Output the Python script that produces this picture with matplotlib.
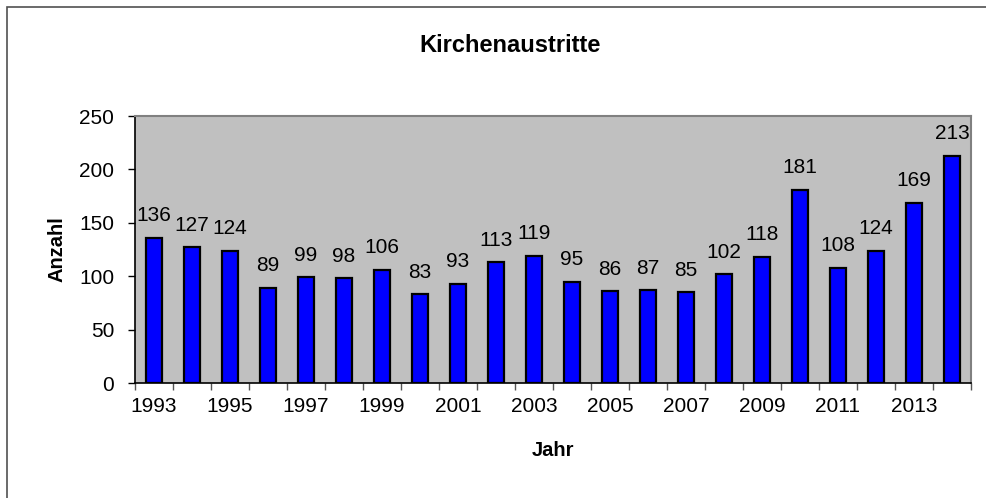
import numpy as np
import matplotlib
matplotlib.use("Agg")
import matplotlib.pyplot as plt
from matplotlib.patches import Rectangle

jahre = list(range(1993, 2015))
anzahl = [136, 127, 124, 89, 99, 98, 106, 83, 93, 113, 119,
          95, 86, 87, 85, 102, 118, 181, 108, 124, 169, 213]

plt.rcParams['font.family'] = ['Liberation Sans', 'DejaVu Sans']

fig = plt.figure(figsize=(9.87, 4.98), dpi=100)
ax = fig.add_axes([135/987, 1-383/498, 836/987, 267/498])
ax.set_facecolor("#C0C0C0")

x = np.arange(len(jahre))
bars = ax.bar(x, anzahl, width=0.42, color="#0000FF", edgecolor="black", linewidth=1.6, zorder=3)
for xi, v in zip(x, anzahl):
    ax.annotate(str(v), (xi, v), xytext=(0, 9), textcoords="offset points",
                ha="center", va="bottom", fontsize=15)

ax.set_xlim(-0.5, len(jahre) - 0.5)
ax.set_ylim(0, 250)
ax.set_yticks(range(0, 251, 50))
ax.tick_params(axis="y", labelsize=15, length=5, pad=10, width=1)

# Striche zwischen den Kategorien, Beschriftung jedes zweiten Jahres
ax.set_xticks(np.arange(-0.5, len(jahre), 1))
ax.set_xticklabels([])
ax.tick_params(axis="x", which="major", length=5, width=1, color="#555555")
ax.set_xticks(x[::2], minor=True)
ax.set_xticklabels([str(j) for j in jahre[::2]], minor=True)
ax.tick_params(axis="x", which="minor", length=0, labelsize=15, pad=10)

for s in ["top", "right"]:
    ax.spines[s].set_color("#808080")
    ax.spines[s].set_linewidth(1.5)
for s in ["left", "bottom"]:
    ax.spines[s].set_color("black")
    ax.spines[s].set_linewidth(1.2)

ax.set_xlabel("Jahr", fontsize=14.5, fontweight="bold", labelpad=18)
ax.set_ylabel("Anzahl", fontsize=14.5, fontweight="bold", labelpad=9)
fig.text(510/987, 1-46/498, "Kirchenaustritte", fontsize=17, fontweight="bold",
         ha="center", va="center")

# Rahmen um die Grafik
fig.patches.append(Rectangle((7/987, -0.1), 1.2, 1.1 - 7/498, transform=fig.transFigure,
                             fill=False, edgecolor="#505050", linewidth=1.2))

fig.savefig("out.png", dpi=100)
